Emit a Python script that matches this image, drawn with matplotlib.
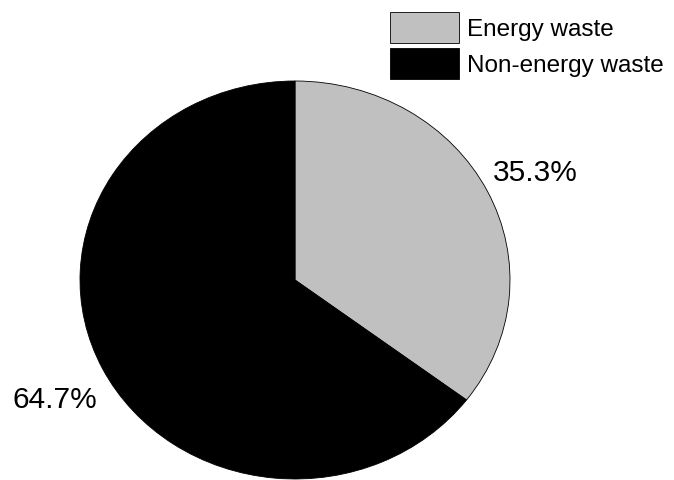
import matplotlib.pyplot as plt

plt.rcParams['font.family'] = ['Liberation Sans', 'DejaVu Sans']

labels = ['Energy waste', 'Non-energy waste']
shares = [35.3, 64.7]
colors = ['#c0c0c0', '#000000']

fig = plt.figure(figsize=(6.74, 4.81), dpi=100)
# pie is drawn as an ellipse, stretched to fill the axes
ax = fig.add_axes([80 / 674, 1 / 481, 430 / 674, 398 / 481])
wedges, texts, autotexts = ax.pie(
    shares,
    colors=colors,
    startangle=90,
    counterclock=False,
    autopct='%.1f%%',
    pctdistance=1.25,
    wedgeprops=dict(edgecolor='black', linewidth=0.6),
    textprops=dict(fontsize=21.5),
)
ax.set_aspect('auto')
ax.set_xlim(-1, 1)
ax.set_ylim(-1, 1)
# nudge the percentage labels a little lower, as in the original
for t, dy in zip(autotexts, [-0.015, -0.04]):
    x, y = t.get_position()
    t.set_position((x, y + dy))
    t.set_color('black')

fig.legend(wedges, labels, loc='upper left', bbox_to_anchor=(385 / 674, 1 - 8 / 481),
           frameon=False, fontsize=17.5, handlelength=2.84, handleheight=1.59,
           handletextpad=0.33, labelspacing=0.2, borderpad=0.2, borderaxespad=0)

fig.savefig('out.png', dpi=100)
